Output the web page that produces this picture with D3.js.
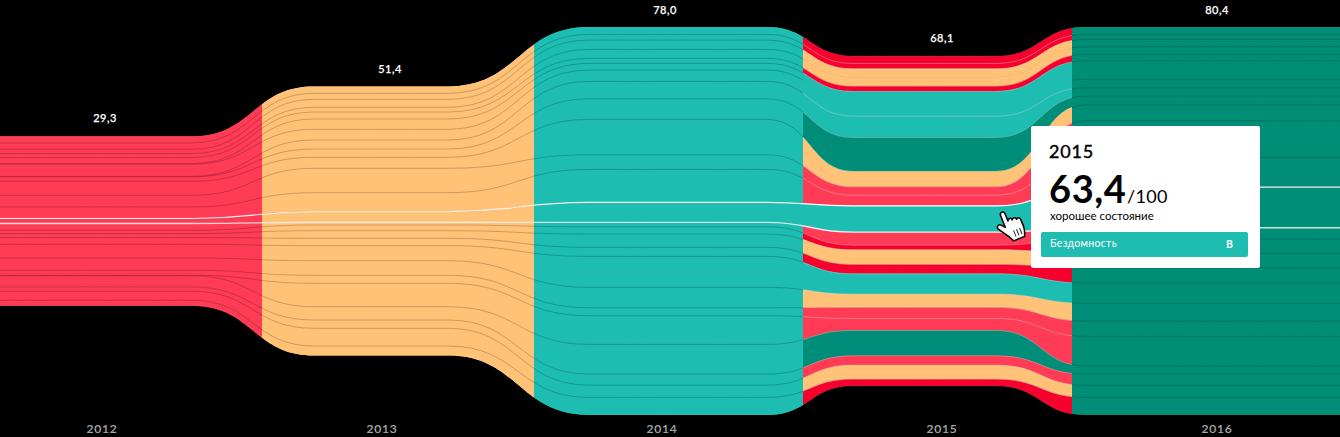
<!DOCTYPE html>
<html>
<head>
<meta charset="utf-8">
<script src="https://cdn.jsdelivr.net/npm/d3@7/dist/d3.min.js"></script>
<style>
html,body{margin:0;padding:0;background:#000;overflow:hidden}
svg{display:block}
text{font-family:Lato,"Noto Sans",sans-serif}
</style>
</head>
<body>
<svg id="chart" width="1340" height="437"></svg>
<script>
// ---- data ----
const years = [2012, 2013, 2014, 2015, 2016];
const yearScores = ["29,3", "51,4", "78,0", "68,1", "80,4"];
// height of every country ribbon per year, ribbons ordered top to bottom
const ribbons2012 = [6.7,6.3,4.3,4.0,6.0,0.7,12.0,0.6,4.4,14.0,11.7,11.6,5.0,6.7,3.3,4.0,6.7,13.7,12.3,5.0,0.6,11.1,4.3,9.0,5.5];
const ribbons2013 = [6.8,6.0,8.0,4.7,7.0,10.3,10.7,9.0,8.3,11.0,24.4,19.0,10.6,2.7,5.7,7.6,7.4,15.0,14.6,8.0,23.4,13.3,8.3,17.7,9.5];
const ribbons2014 = [7.3,5.7,9.3,9.0,5.0,6.7,11.3,17.4,20.6,35.4,14.6,33.0,20.0,4.4,7.3,13.3,9.0,31.0,20.4,8.0,28.6,29.7,11.0,12.3,17.5];
const ribbons2015 = [7.3,5.4,8.3,9.0,5.3,8.7,16.0,21.3,34.0,15.4,8.3,10.7,26.3,13.0,4.7,14.6,9.4,20.3,13.3,11.0,12.0,25.4,9.3,14.0,6.7];
const ribbons2016 = [7.3,5.0,7.4,7.6,6.4,18.6,8.4,8.3,8.7,16.0,36.6,29.7,40.7,11.3,14.3,14.4,15.3,20.3,17.7,15.3,29.7,8.0,11.3,12.0,17.5];
// grade of each ribbon in 2015; the other years have one grade for all
const grades2015 = ["E","E","C","C","E","B","B","B","A","C","D","D","B","D","E","C","E","B","C","D","D","A","D","C","E"];
const yearGrade = ["D","C","B",null,"A"];
const hiddenLines2015 = [2,5];
const selectedRibbon = 12;
const tooltipYear = "2015", tooltipScore = "63,4", tooltipMax = "/100",
      tooltipState = "хорошее состояние", tooltipName = "Бездомность", tooltipGrade = "B";

// ---- layout ----
const W = 1340, H = 437;
const gradeColor = {A:"#008e78", B:"#1ebdb1", C:"#ffc277", D:"#ff3b55", E:"#f6002d"};
const yearEdges = [0, 262, 534, 803, 1072, 1340];
const easeSpans = [[-70,52],[-86,55],[-36,50],[-76,14]];
const ribbonsByYear = [ribbons2012, ribbons2013, ribbons2014, ribbons2015, ribbons2016];

const y = d3.scaleLinear().domain([-194,194]).range([27,415]);

const n = ribbons2012.length;
// stack, centred per year
const stacks = ribbonsByYear.map(r => {
  const total = d3.sum(r);
  const c = d3.cumsum(r).map(v => v - total/2);
  return [-total/2, ...c];
});
// points along the x axis where each boundary holds a year's level
const stops = [{x:yearEdges[0], i:0}];
easeSpans.forEach((s,k) => {
  stops.push({x:yearEdges[k+1]+s[0], i:k});
  stops.push({x:yearEdges[k+1]+s[1], i:k+1});
});
stops.push({x:yearEdges[5], i:4});

const svg = d3.select("#chart");
const defs = svg.append("defs");
years.forEach((yr,i) => {
  defs.append("clipPath").attr("id","col"+yr).append("rect")
    .attr("x",yearEdges[i]).attr("y",0).attr("width",yearEdges[i+1]-yearEdges[i]).attr("height",H);
});

const area = d3.area().curve(d3.curveBumpX).x(d=>d.x).y0(d=>d.y0).y1(d=>d.y1);
const line = d3.line().curve(d3.curveBumpX).x(d=>d.x).y(d=>d.y);

const edgePts = k => stops.map(s => ({x:s.x, y:y(stacks[s.i][k])}));
const bandPts = k => stops.map(s => ({x:s.x, y0:y(stacks[s.i][k]), y1:y(stacks[s.i][k+1])}));
const wholePts = stops.map(s => ({x:s.x, y0:y(stacks[s.i][0]), y1:y(stacks[s.i][n])}));

years.forEach((yr,i) => {
  const g = svg.append("g").attr("clip-path",`url(#col${yr})`);
  const uniform = yearGrade[i];
  // backing shape keeps the seams between ribbons from showing the black page
  g.append("path").attr("d", area(wholePts)).attr("fill", uniform ? gradeColor[uniform] : "#8a8a8a");
  g.selectAll("path.band").data(d3.range(n)).join("path")
    .attr("class","band")
    .attr("d", k => area(bandPts(k)))
    .attr("fill", k => gradeColor[uniform || grades2015[k]])
    .attr("stroke", uniform ? "none" : (k => gradeColor[grades2015[k]]))
    .attr("stroke-width", uniform ? 0 : 0.3);
  const lines = d3.range(1,n).filter(k => yr !== 2015 || !hiddenLines2015.includes(k-1));
  g.selectAll("path.sep").data(lines).join("path")
    .attr("class","sep")
    .attr("d", k => line(edgePts(k)))
    .attr("fill","none")
    .attr("stroke", yr === 2015 ? "rgba(235,235,235,.3)" : "rgba(0,0,0,.2)")
    .attr("stroke-width",1);
});

// selected ribbon outline
[selectedRibbon, selectedRibbon+1].forEach((k,j) => {
  svg.append("path").attr("d", line(edgePts(k))).attr("fill","none")
    .attr("stroke","#fff").attr("stroke-width", j ? 1.4 : 1.1).attr("stroke-opacity", j ? .8 : .95);
});

// year scores above the ribbons
const scoreX = [105,390,665,942,1217];
const topOf = i => y(stacks[i][0]);
svg.selectAll("text.score").data(yearScores).join("text").attr("class","score")
  .attr("x",(d,i)=>scoreX[i]).attr("y",(d,i)=>Math.max(topOf(i)-14,14))
  .attr("text-anchor","middle").attr("fill","#fff").attr("font-size",11).attr("font-weight",500)
  .attr("stroke","#fff").attr("stroke-width",.25)
  .attr("letter-spacing",".5px").text(d=>d);

// year labels below
const labelX = [102,382,662,942,1217];
svg.selectAll("text.yr").data(years).join("text").attr("class","yr")
  .attr("x",(d,i)=>labelX[i]).attr("y",433)
  .attr("text-anchor","middle").attr("fill","#a8a8a8").attr("font-size",12).attr("font-weight",500)
  .attr("stroke","#a8a8a8").attr("stroke-width",.2)
  .attr("letter-spacing",".8px").text(d=>d);

// tooltip
const tip = svg.append("g");
tip.append("rect").attr("x",1031).attr("y",126).attr("width",229).attr("height",142).attr("rx",2).attr("fill","#fff");
tip.append("text").attr("x",1049).attr("y",158).attr("font-size",18).attr("font-weight",400).attr("stroke","#000").attr("stroke-width",.4).attr("letter-spacing",".8px").attr("fill","#000").text(tooltipYear);
tip.append("text").attr("x",1049).attr("y",203).attr("font-size",38).attr("font-weight",700).attr("letter-spacing",".6px").attr("fill","#000").text(tooltipScore);
tip.append("text").attr("x",1127).attr("y",203).attr("font-size",18).attr("fill","#000").attr("letter-spacing",".3px").text(tooltipMax);
tip.append("text").attr("x",1050).attr("y",220).attr("font-size",11.5).attr("fill","#000").text(tooltipState);
tip.append("rect").attr("x",1041).attr("y",232).attr("width",207).attr("height",25).attr("rx",2).attr("fill",gradeColor.B);
tip.append("text").attr("x",1050).attr("y",247).attr("font-size",10.5).attr("fill","#fff").attr("letter-spacing",".3px").text(tooltipName);
tip.append("text").attr("x",1226).attr("y",248).attr("font-size",10.5).attr("font-weight",700).attr("fill","#fff").text(tooltipGrade);

// hand cursor
const hand = svg.append("g").attr("transform","translate(1010,226) rotate(-22) scale(1.08)");
hand.append("path")
  .attr("d","M-5,8 L-11,-1 C-12.5,-4 -9,-6 -7,-3.5 L-4.5,-0.5 L-4.5,-12 C-4.5,-15.5 0,-15.5 0,-12 L0,-5 C1,-7.5 4,-7 4,-4.5 C5,-6.5 8,-6 8,-3.5 C9,-5 11.5,-4.5 11.5,-2 L11.5,5 C11.5,9 10,11 9,14 L-2,14 Z")
  .attr("fill","#fff").attr("stroke","#000").attr("stroke-width",1.4).attr("stroke-linejoin","round");
hand.selectAll("line").data([1.5,4.5,7.5]).join("line")
  .attr("x1",d=>d).attr("x2",d=>d).attr("y1",5).attr("y2",11)
  .attr("stroke","#333").attr("stroke-width",1);
</script>
</body>
</html>
